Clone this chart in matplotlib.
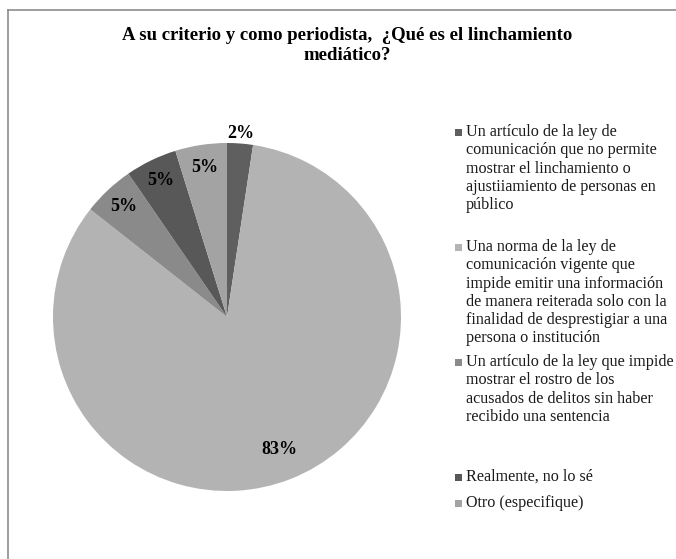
import matplotlib.pyplot as plt
from matplotlib.patches import Rectangle
from matplotlib.lines import Line2D
import numpy as np

# answers (share of respondents)
labels = [
    "Un artículo de la ley de\ncomunicación que no permite\nmostrar el linchamiento o\najustiiamiento de personas en\npúblico",
    "Una norma de la ley de\ncomunicación vigente que\nimpide emitir una información\nde manera reiterada solo con la\nfinalidad de desprestigiar a una\npersona o institución",
    "Un artículo de la ley que impide\nmostrar el rostro de los\nacusados de delitos sin haber\nrecibido una sentencia",
    "Realmente, no lo sé",
    "Otro (especifique)",
]
values = [2.4, 83.3, 4.8, 4.8, 4.8]
pct_labels = ["2%", "83%", "5%", "5%", "5%"]
colors = ["#5f5f5f", "#b3b3b3", "#8a8a8a", "#585858", "#a3a3a3"]

W, H = 676, 559
fig = plt.figure(figsize=(W / 100, H / 100), dpi=100)
fig.patch.set_facecolor("white")

serif = ["Liberation Serif", "DejaVu Serif"]

# chart frame (only left/top edges visible in crop)
fig.add_artist(Line2D([8 / W, 8 / W], [0, 1 - 10 / H], transform=fig.transFigure,
                      color="#8c8c8c", lw=1.2))
fig.add_artist(Line2D([8 / W, 1], [1 - 10 / H, 1 - 10 / H], transform=fig.transFigure,
                      color="#8c8c8c", lw=1.2))

fig.text(347 / W, 1 - 36 / H, "A su criterio y como periodista,  ¿Qué es el linchamiento",
         ha="center", va="center", fontsize=13.5, fontweight="bold", family=serif)
fig.text(347 / W, 1 - 55 / H, "mediático?",
         ha="center", va="center", fontsize=13.5, fontweight="bold", family=serif)

cx, cy, r = 227, 317, 174
ax = fig.add_axes([(cx - r) / W, (H - cy - r) / H, 2 * r / W, 2 * r / H])
wedges, _ = ax.pie(values, colors=colors, startangle=90, counterclock=False,
                   radius=1, wedgeprops=dict(linewidth=0))
ax.set_xlim(-1, 1)
ax.set_ylim(-1, 1)
ax.set_aspect("equal")
ax.axis("off")

for i, w in enumerate(wedges):
    ang = np.deg2rad((w.theta1 + w.theta2) / 2)
    d = 1.06 if i == 0 else (0.82 if i == 1 else 0.87)
    ax.text(d * np.cos(ang), d * np.sin(ang), pct_labels[i], ha="center", va="center",
            fontsize=13, fontweight="bold", family=serif, color="black", clip_on=False)

# legend, drawn by hand to follow the uneven spacing of the original
first_line_y = [132, 247, 362, 477, 503]
line_h = 18.3
for lab, col, y0 in zip(labels, colors, first_line_y):
    fig.add_artist(Rectangle((455 / W, 1 - (y0 + 3.5) / H), 7 / W, 7 / H,
                             transform=fig.transFigure, facecolor=col, edgecolor="none"))
    for k, line in enumerate(lab.split("\n")):
        fig.text(466 / W, 1 - (y0 + k * line_h) / H, line, ha="left", va="center",
                 fontsize=11.6, family=serif, color="#1a1a1a")

fig.savefig("out.png", dpi=100, facecolor="white")
